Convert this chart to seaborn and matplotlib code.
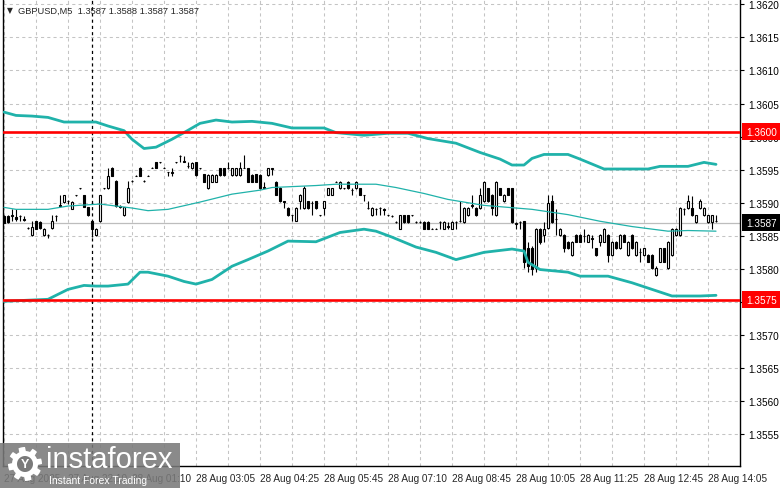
import numpy as np
import pandas as pd
import seaborn as sns
import matplotlib.pyplot as plt
from matplotlib.patches import Rectangle, Polygon

# GBPUSD M5 candles (bar 0 = first visible bar)
opens = [1.35880, 1.35880, 1.35880, 1.35878, 1.35880, 1.35876, 1.35862, 1.35851, 1.35872, 1.35871,
         1.35851, 1.35851, 1.35862, 1.35880, 1.35895, 1.35901, 1.35903, 1.35891, 1.35911, 1.35922,
         1.35911, 1.35893, 1.35872, 1.35851, 1.35872, 1.35922, 1.35922, 1.35953, 1.35933, 1.35895,
         1.35881, 1.35901, 1.35933, 1.35941, 1.35953, 1.35933, 1.35941, 1.35953, 1.35961, 1.35961,
         1.35953, 1.35946, 1.35945, 1.35961, 1.35971, 1.35962, 1.35955, 1.35952, 1.35961, 1.35952,
         1.35943, 1.35922, 1.35932, 1.35932, 1.35952, 1.35952, 1.35952, 1.35942, 1.35942, 1.35942,
         1.35953, 1.35952, 1.35942, 1.35943, 1.35942, 1.35923, 1.35942, 1.35951, 1.35932, 1.35923,
         1.35902, 1.35892, 1.35881, 1.35873, 1.35902, 1.35892, 1.35902, 1.35900, 1.35902, 1.35881,
         1.35892, 1.35912, 1.35912, 1.35932, 1.35922, 1.35922, 1.35932, 1.35920, 1.35922, 1.35922,
         1.35911, 1.35892, 1.35881, 1.35890, 1.35892, 1.35890, 1.35881, 1.35880, 1.35871, 1.35861,
         1.35881, 1.35881, 1.35881, 1.35871, 1.35871, 1.35871, 1.35871, 1.35861, 1.35861, 1.35871,
         1.35861, 1.35864, 1.35861, 1.35871, 1.35872, 1.35871, 1.35881, 1.35895, 1.35892, 1.35892,
         1.35902, 1.35922, 1.35912, 1.35881, 1.35922, 1.35902, 1.35922, 1.35922, 1.35868, 1.35871,
         1.35872, 1.35831, 1.35831, 1.35801, 1.35861, 1.35851, 1.35862, 1.35902, 1.35875, 1.35851,
         1.35851, 1.35841, 1.35821, 1.35851, 1.35851, 1.35850, 1.35841, 1.35845, 1.35831, 1.35841,
         1.35841, 1.35851, 1.35821, 1.35841, 1.35831, 1.35851, 1.35821, 1.35851, 1.35821, 1.35825,
         1.35821, 1.35821, 1.35821, 1.35791, 1.35811, 1.35831, 1.35801, 1.35821, 1.35851, 1.35851,
         1.35890, 1.35892, 1.35892, 1.35871, 1.35892, 1.35881, 1.35871, 1.35871, 1.35872]
highs = [1.35882, 1.35882, 1.35890, 1.35890, 1.35882, 1.35880, 1.35863, 1.35872, 1.35873, 1.35872,
         1.35862, 1.35852, 1.35881, 1.35881, 1.35911, 1.35912, 1.35904, 1.35903, 1.35912, 1.35923,
         1.35912, 1.35894, 1.35873, 1.35862, 1.35912, 1.35923, 1.35953, 1.35954, 1.35934, 1.35896,
         1.35894, 1.35933, 1.35934, 1.35942, 1.35954, 1.35934, 1.35942, 1.35954, 1.35962, 1.35962,
         1.35954, 1.35947, 1.35953, 1.35962, 1.35972, 1.35971, 1.35961, 1.35961, 1.35962, 1.35953,
         1.35944, 1.35943, 1.35943, 1.35943, 1.35953, 1.35953, 1.35961, 1.35953, 1.35953, 1.35961,
         1.35972, 1.35953, 1.35943, 1.35944, 1.35943, 1.35932, 1.35953, 1.35952, 1.35933, 1.35924,
         1.35903, 1.35893, 1.35882, 1.35893, 1.35913, 1.35925, 1.35903, 1.35902, 1.35903, 1.35882,
         1.35903, 1.35923, 1.35923, 1.35933, 1.35933, 1.35923, 1.35933, 1.35922, 1.35933, 1.35923,
         1.35912, 1.35903, 1.35893, 1.35892, 1.35893, 1.35892, 1.35882, 1.35881, 1.35872, 1.35882,
         1.35882, 1.35882, 1.35882, 1.35872, 1.35872, 1.35872, 1.35872, 1.35862, 1.35862, 1.35872,
         1.35872, 1.35871, 1.35872, 1.35872, 1.35902, 1.35893, 1.35893, 1.35912, 1.35893, 1.35922,
         1.35933, 1.35923, 1.35913, 1.35933, 1.35923, 1.35913, 1.35923, 1.35923, 1.35871, 1.35872,
         1.35873, 1.35840, 1.35835, 1.35862, 1.35862, 1.35871, 1.35912, 1.35912, 1.35890, 1.35862,
         1.35852, 1.35842, 1.35842, 1.35852, 1.35852, 1.35861, 1.35852, 1.35851, 1.35832, 1.35852,
         1.35862, 1.35852, 1.35842, 1.35842, 1.35852, 1.35852, 1.35842, 1.35852, 1.35842, 1.35831,
         1.35832, 1.35822, 1.35822, 1.35805, 1.35832, 1.35832, 1.35842, 1.35862, 1.35862, 1.35893,
         1.35892, 1.35912, 1.35910, 1.35882, 1.35905, 1.35893, 1.35882, 1.35882, 1.35881]
lows = [1.35870, 1.35870, 1.35872, 1.35872, 1.35872, 1.35872, 1.35861, 1.35850, 1.35860, 1.35861,
        1.35850, 1.35846, 1.35861, 1.35872, 1.35893, 1.35900, 1.35898, 1.35890, 1.35910, 1.35921,
        1.35893, 1.35880, 1.35848, 1.35850, 1.35871, 1.35921, 1.35921, 1.35940, 1.35894, 1.35892,
        1.35880, 1.35900, 1.35932, 1.35940, 1.35940, 1.35932, 1.35940, 1.35952, 1.35952, 1.35960,
        1.35952, 1.35941, 1.35941, 1.35960, 1.35962, 1.35961, 1.35952, 1.35951, 1.35941, 1.35951,
        1.35931, 1.35921, 1.35931, 1.35931, 1.35941, 1.35941, 1.35951, 1.35941, 1.35941, 1.35941,
        1.35952, 1.35931, 1.35931, 1.35931, 1.35921, 1.35922, 1.35941, 1.35942, 1.35911, 1.35901,
        1.35892, 1.35880, 1.35873, 1.35872, 1.35890, 1.35891, 1.35891, 1.35881, 1.35891, 1.35880,
        1.35881, 1.35911, 1.35911, 1.35931, 1.35921, 1.35921, 1.35921, 1.35912, 1.35921, 1.35911,
        1.35902, 1.35891, 1.35880, 1.35881, 1.35881, 1.35881, 1.35880, 1.35879, 1.35870, 1.35860,
        1.35870, 1.35870, 1.35880, 1.35870, 1.35870, 1.35860, 1.35860, 1.35860, 1.35860, 1.35861,
        1.35860, 1.35861, 1.35860, 1.35861, 1.35871, 1.35870, 1.35880, 1.35892, 1.35880, 1.35891,
        1.35901, 1.35901, 1.35881, 1.35880, 1.35911, 1.35901, 1.35911, 1.35870, 1.35861, 1.35861,
        1.35801, 1.35795, 1.35791, 1.35795, 1.35838, 1.35841, 1.35860, 1.35870, 1.35851, 1.35850,
        1.35825, 1.35830, 1.35820, 1.35840, 1.35840, 1.35841, 1.35840, 1.35831, 1.35820, 1.35835,
        1.35840, 1.35811, 1.35820, 1.35830, 1.35830, 1.35840, 1.35820, 1.35830, 1.35820, 1.35811,
        1.35820, 1.35810, 1.35800, 1.35789, 1.35810, 1.35810, 1.35800, 1.35820, 1.35850, 1.35850,
        1.35881, 1.35891, 1.35880, 1.35870, 1.35891, 1.35880, 1.35870, 1.35861, 1.35871]
closes = [1.35870, 1.35871, 1.35881, 1.35875, 1.35880, 1.35874, 1.35862, 1.35863, 1.35861, 1.35862,
          1.35861, 1.35851, 1.35872, 1.35880, 1.35896, 1.35911, 1.35903, 1.35901, 1.35911, 1.35922,
          1.35894, 1.35881, 1.35861, 1.35861, 1.35911, 1.35922, 1.35941, 1.35941, 1.35895, 1.35893,
          1.35893, 1.35922, 1.35933, 1.35941, 1.35941, 1.35933, 1.35941, 1.35953, 1.35953, 1.35961,
          1.35953, 1.35946, 1.35946, 1.35961, 1.35971, 1.35963, 1.35956, 1.35960, 1.35942, 1.35952,
          1.35932, 1.35942, 1.35942, 1.35942, 1.35942, 1.35942, 1.35953, 1.35952, 1.35952, 1.35952,
          1.35952, 1.35932, 1.35932, 1.35932, 1.35922, 1.35924, 1.35952, 1.35952, 1.35912, 1.35902,
          1.35901, 1.35881, 1.35881, 1.35892, 1.35912, 1.35922, 1.35892, 1.35899, 1.35892, 1.35881,
          1.35902, 1.35922, 1.35922, 1.35932, 1.35932, 1.35922, 1.35922, 1.35920, 1.35932, 1.35912,
          1.35911, 1.35892, 1.35892, 1.35891, 1.35892, 1.35889, 1.35881, 1.35880, 1.35871, 1.35881,
          1.35871, 1.35871, 1.35881, 1.35871, 1.35871, 1.35861, 1.35861, 1.35861, 1.35861, 1.35871,
          1.35871, 1.35865, 1.35871, 1.35871, 1.35873, 1.35892, 1.35892, 1.35896, 1.35881, 1.35912,
          1.35932, 1.35902, 1.35892, 1.35932, 1.35912, 1.35912, 1.35912, 1.35871, 1.35869, 1.35871,
          1.35811, 1.35805, 1.35800, 1.35861, 1.35841, 1.35861, 1.35900, 1.35871, 1.35876, 1.35861,
          1.35831, 1.35831, 1.35841, 1.35841, 1.35841, 1.35849, 1.35851, 1.35846, 1.35821, 1.35851,
          1.35861, 1.35821, 1.35841, 1.35831, 1.35851, 1.35841, 1.35841, 1.35831, 1.35841, 1.35826,
          1.35831, 1.35811, 1.35801, 1.35801, 1.35831, 1.35811, 1.35841, 1.35861, 1.35861, 1.35892,
          1.35891, 1.35902, 1.35881, 1.35881, 1.35902, 1.35892, 1.35881, 1.35881, 1.35872]

# Bollinger bands at these bars
upper_bars = [0, 3, 7, 11, 15, 23, 26, 30, 32, 35, 38, 42, 45, 49, 53, 57, 62, 67, 72, 80,
              83, 90, 96, 101, 106, 113, 119, 124, 127, 130, 132, 135, 141, 144, 150, 161, 164, 171, 175, 178]
upper = [1.36037, 1.36032, 1.36031, 1.36029, 1.36022, 1.36022, 1.36016, 1.36009, 1.35996, 1.35982,
         1.35984, 1.35996, 1.36006, 1.36020, 1.36025, 1.36022, 1.36023, 1.36020, 1.36013, 1.36013,
         1.36006, 1.36002, 1.36005, 1.36005, 1.35997, 1.35990, 1.35976, 1.35966, 1.35957, 1.35957,
         1.35967, 1.35973, 1.35973, 1.35966, 1.35951, 1.35951, 1.35955, 1.35955, 1.35961, 1.35958]
middle_bars = [0, 3, 11, 16, 24, 28, 32, 36, 41, 49, 57, 64, 67, 78, 83, 93, 98, 105, 111, 120,
               128, 132, 141, 149, 157, 166, 171, 178]
middle = [1.35893, 1.35890, 1.35890, 1.35895, 1.35898, 1.35895, 1.35892, 1.35888, 1.35890, 1.35901,
          1.35913, 1.35919, 1.35923, 1.35926, 1.35928, 1.35928, 1.35923, 1.35914, 1.35905, 1.35896,
          1.35892, 1.35890, 1.35882, 1.35872, 1.35864, 1.35857, 1.35858, 1.35857]
lower_bars = [0, 11, 16, 20, 23, 26, 31, 34, 36, 41, 45, 48, 52, 57, 61, 66, 71, 78, 81, 84,
              90, 93, 97, 103, 108, 113, 120, 127, 130, 131, 134, 141, 144, 151, 157, 164, 167, 174, 178]
lower = [1.35751, 1.35754, 1.35769, 1.35775, 1.35774, 1.35774, 1.35777, 1.35795, 1.35795, 1.35789,
         1.35781, 1.35777, 1.35784, 1.35804, 1.35814, 1.35827, 1.35842, 1.35841, 1.35848, 1.35855,
         1.35860, 1.35857, 1.35848, 1.35833, 1.35825, 1.35814, 1.35825, 1.35830, 1.35827, 1.35810,
         1.35799, 1.35795, 1.35789, 1.35789, 1.35779, 1.35765, 1.35759, 1.35759, 1.35760]

levels = [1.36007, 1.35753]
level_labels = ["1.3600", "1.3575"]
last_price = 1.3587

time_bars = [0, 16, 32, 48, 64, 80, 96, 112, 128, 144, 160, 176]
time_labels = ["27 Aug 2025", "27 Aug 22:10", "28 Aug 01:10", "28 Aug 03:05", "28 Aug 04:25",
               "28 Aug 05:45", "28 Aug 07:10", "28 Aug 08:45", "28 Aug 10:05", "28 Aug 11:25",
               "28 Aug 12:45", "28 Aug 14:05"]
day_sep_bar = 22

sns.set_style("white")
plt.rcParams['font.family'] = ['Liberation Sans', 'DejaVu Sans']

W, H = 781, 489
fig = plt.figure(figsize=(W / 100, H / 100), dpi=100)
ax = fig.add_axes([3 / W, 22 / H, 737 / W, 467 / H])

bars = pd.DataFrame({"o": opens, "h": highs, "l": lows, "c": closes})
bars["i"] = np.arange(len(bars))
bars["bottom"] = bars[["o", "c"]].min(axis=1)
bars["height"] = (bars["c"] - bars["o"]).abs()
bars["face"] = np.where(bars["c"] >= bars["o"], "white", "black")

# grid
ax.set_xticks(np.arange(0, 184, 8), minor=True)
ax.grid(True, which="both", color="#c4c4c4", linestyle=(0, (3, 3)), linewidth=0.75, zorder=0)
ax.axhline(last_price, color="#bdbdbd", linewidth=0.9, zorder=1)
ax.axvline(day_sep_bar, color="black", linestyle=(0, (2.5, 2.5)), linewidth=0.9, zorder=1)

# candles
ax.vlines(bars["i"], bars["l"], bars["h"], color="black", linewidth=0.8, zorder=3)
ax.bar(bars["i"], bars["height"], bottom=bars["bottom"], width=0.68, color=bars["face"],
       edgecolor="black", linewidth=0.8, zorder=3)

# bollinger bands
teal = "#20b2aa"
sns.lineplot(x=upper_bars, y=upper, ax=ax, color=teal, linewidth=2.0, estimator=None, zorder=4)
sns.lineplot(x=middle_bars, y=middle, ax=ax, color=teal, linewidth=0.9, estimator=None, zorder=4)
sns.lineplot(x=lower_bars, y=lower, ax=ax, color=teal, linewidth=2.0, estimator=None, zorder=4)

for lv in levels:
    ax.axhline(lv, color="#ff0000", linewidth=1.9, zorder=5)

ax.set_xlim(-0.25, 184)
ax.set_ylim(1.35502, 1.36208)

yt = np.round(np.arange(1.3555, 1.36201, 0.0005), 4)
ax.set_yticks(yt)
ax.set_yticklabels([f"{v:.4f}" for v in yt])
ax.yaxis.tick_right()
ax.tick_params(axis="y", direction="out", length=3, width=0.8, pad=3, labelsize=7.2, colors="black")

ax.set_xticks(time_bars)
ax.set_xticklabels(time_labels, ha="left")
ax.tick_params(axis="x", which="major", direction="out", length=3, width=0.8, pad=2, labelsize=7.2)
ax.tick_params(axis="x", which="minor", length=0)

for side in ["left", "right", "bottom"]:
    ax.spines[side].set_color("black")
    ax.spines[side].set_linewidth(1.0)
ax.spines["top"].set_visible(False)
ax.set_xlabel("")
ax.set_ylabel("")

# price boxes on the right scale
yax = ax.get_yaxis_transform()
for lv, lab in zip(levels, level_labels):
    ax.text(1.0081, lv, lab, transform=yax, fontsize=7.2, color="white", va="center", ha="left",
            bbox=dict(boxstyle="square,pad=0.35", fc="#ff0000", ec="none"), zorder=10, clip_on=False)
ax.text(1.0081, last_price, f"{last_price:.4f}", transform=yax, fontsize=7.2, color="white",
        va="center", ha="left", bbox=dict(boxstyle="square,pad=0.35", fc="black", ec="none"),
        zorder=10, clip_on=False)

# header
fig.text(7 / W, 1 - 11 / H, "\u25bc", fontsize=5.5, va="center", ha="left", family="DejaVu Sans")
fig.text(18 / W, 1 - 11 / H, "GBPUSD,M5  1.3587 1.3588 1.3587 1.3587", fontsize=6.7,
         va="center", ha="left")

# watermark
fig.patches.append(Rectangle((0, 0), 180 / W, 45 / H, transform=fig.transFigure,
                             fc="#7a7a7a", ec="none", alpha=0.88, zorder=20))
cx, cy = 25 / W, 1 - 465 / H
ang = np.linspace(0, 2 * np.pi, 97)
rad = np.where((np.floor(ang / (2 * np.pi / 16)) % 2) == 0, 17, 13)
gear = np.column_stack([cx + rad * np.cos(ang) / W, cy + rad * np.sin(ang) / H])
fig.patches.append(Polygon(gear, closed=True, transform=fig.transFigure, fc="white", ec="none", zorder=21))
fig.patches.append(Polygon(np.column_stack([cx + 8 * np.cos(ang) / W, cy + 8 * np.sin(ang) / H]),
                           closed=True, transform=fig.transFigure, fc="#7a7a7a", ec="none", zorder=22))
fig.text(cx, cy, "Y", fontsize=9, fontweight="bold", color="white", ha="center", va="center", zorder=23)
fig.text(46 / W, 1 - 460 / H, "instaforex", fontsize=21, color="white", ha="left", va="center",
         zorder=23)
fig.text(49 / W, 1 - 481 / H, "Instant Forex Trading", fontsize=7.5, color="white", ha="left",
         va="center", zorder=23)

fig.savefig("out.png", dpi=100)
